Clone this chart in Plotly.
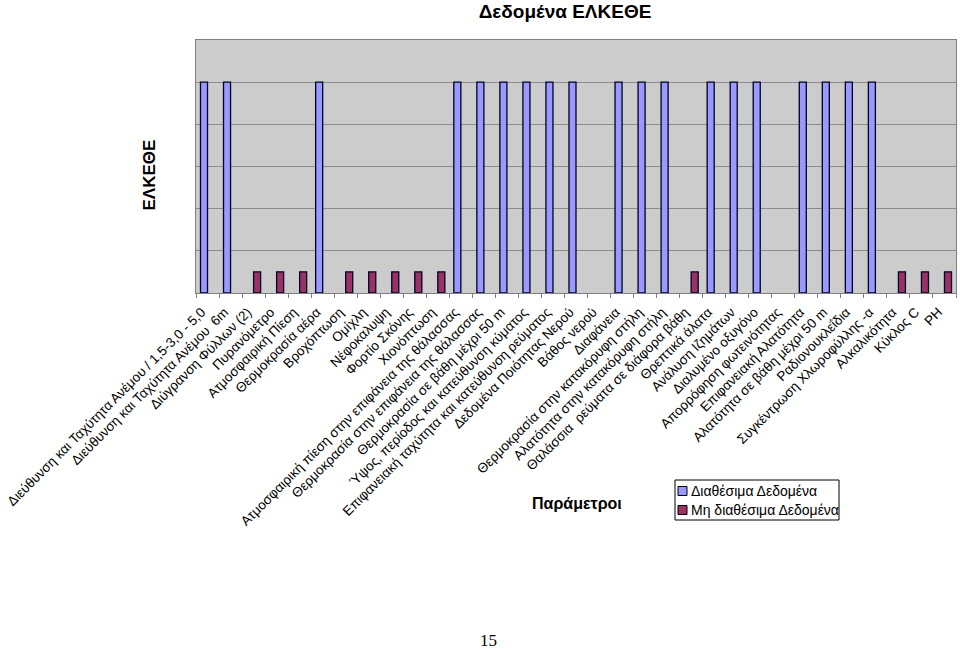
import plotly.graph_objects as go

categories = [
    "Διεύθυνση και Ταχύτητα Ανέμου / 1,5-3,0 - 5,0",
    "Διεύθυνση και Ταχύτητα Ανέμου  6m",
    "Διύγρανση Φύλλων (2)",
    "Πυρανόμετρο",
    "Ατμοσφαιρική Πίεση",
    "Θερμοκρασία αέρα",
    "Βροχόπτωση",
    "Ομίχλη",
    "Νέφοκαλυψη",
    "Φορτίο Σκόνης",
    "Χιονόπτωση",
    "Ατμοσφαιρική πίεση στην επιφάνεια της θάλασσας",
    "Θερμοκρασία στην επιφάνεια της θάλασσας",
    "Θερμοκρασία σε βάθη μέχρι 50 m",
    "Ύψος, περίοδος και κατεύθυνση κύματος",
    "Επιφανειακή ταχύτητα και κατεύθυνση ρεύματος",
    "Δεδομένα Ποιότητας Νερού",
    "Βάθος νερού",
    "Διαφάνεια",
    "Θερμοκρασία στην κατακόρυφη στήλη",
    "Αλατότητα στην κατακόρυφη στήλη",
    "Θαλάσσια  ρεύματα σε διάφορα βάθη",
    "Θρεπτικά άλατα",
    "Ανάλυση Ιζημάτων",
    "Διαλυμένο οξυγόνο",
    "Απορρόφηση φωτεινότητας",
    "Επιφανειακή Αλατότητα",
    "Αλατότητα σε βάθη μέχρι 50 m",
    "Ραδιονουκλεΐδια",
    "Συγκέντρωση Χλωροφύλλης -α",
    "Αλκαλικότητα",
    "Κύκλος C",
    "PH",
]

available = [1, 1, 0, 0, 0, 1, 0, 0, 0, 0, 0, 1, 1, 1, 1, 1, 1, 0, 1, 1, 1, 0,
             1, 1, 1, 0, 1, 1, 1, 1, 0, 0, 0]
unavailable = [0, 0, 0.1, 0.1, 0.1, 0, 0.1, 0.1, 0.1, 0.1, 0.1, 0, 0, 0, 0, 0, 0,
               0, 0, 0, 0, 0.1, 0, 0, 0, 0, 0, 0, 0, 0, 0.1, 0.1, 0.1]

series_names = ["Διαθέσιμα Δεδομένα", "Μη διαθέσιμα Δεδομένα"]
series_colors = ["#9999FF", "#993366"]

FONT = "Liberation Sans, Arial, sans-serif"

fig = go.Figure()
for vals, name, color in zip([available, unavailable], series_names, series_colors):
    fig.add_trace(go.Bar(
        x=categories, y=[v if v else None for v in vals], name=name,
        marker=dict(color=color, line=dict(color="#000022", width=1.3)),
        showlegend=False,
    ))

L, T, PW, PH_ = 196, 40, 760, 253

def px(x):
    return (x - L) / PW

def py(y):
    return (T + PH_ - y) / PH_

fig.update_layout(
    width=960, height=649,
    barmode="group", bargap=0.39, bargroupgap=0,
    paper_bgcolor="white", plot_bgcolor="#CCCCCC",
    margin=dict(l=L, r=960 - L - PW, t=T, b=649 - T - PH_, autoexpand=False),
    font=dict(family=FONT, size=12, color="black"),
    title=dict(text="<b>Δεδομένα ΕΛΚΕΘΕ</b>", x=565/960, xanchor="center",
               y=1 - 11/649, yanchor="middle", font=dict(size=19, family=FONT)),
)

fig.update_xaxes(
    type="category", tickangle=-45, automargin=False,
    showline=True, linecolor="#808080", mirror=True, linewidth=1,
    ticks="outside", ticklen=4, tickcolor="#808080", tickson="boundaries",
    ticklabelshift=-6, ticklabelstandoff=5,
    showgrid=False, tickfont=dict(size=13.5, family=FONT),
)
fig.update_yaxes(
    range=[0, 1.2], dtick=0.2, showticklabels=False,
    showgrid=True, gridcolor="#8C8C8C", gridwidth=1,
    showline=True, linecolor="#808080", mirror=True, zeroline=False,
    automargin=False, ticks="",
)

fig.add_annotation(text="<b>ΕΛΚΕΘΕ</b>", xref="paper", yref="paper",
                   x=px(137), y=py(175), textangle=-90,
                   showarrow=False, font=dict(size=17, family=FONT))
fig.add_annotation(text="<b>Παράμετροι</b>", xref="paper", yref="paper",
                   x=px(577), y=py(503), xanchor="center", yanchor="middle",
                   showarrow=False, font=dict(size=16, family=FONT))
fig.add_annotation(text="15", xref="paper", yref="paper",
                   x=px(488), y=py(640), xanchor="center", yanchor="middle",
                   showarrow=False, font=dict(size=17, family="Liberation Serif, Times New Roman, serif"))

# legend box (drawn like the original chart's legend)
fig.add_shape(type="rect", xref="paper", yref="paper",
              x0=px(675), x1=px(839), y0=py(480), y1=py(520),
              line=dict(color="#000000", width=1), fillcolor="white", layer="above")
for i, (name, color) in enumerate(zip(series_names, series_colors)):
    yc = 491 + 19 * i
    fig.add_shape(type="rect", xref="paper", yref="paper",
                  x0=px(678), x1=px(687), y0=py(yc - 4.5), y1=py(yc + 4.5),
                  line=dict(color="#000000", width=1), fillcolor=color, layer="above")
    fig.add_annotation(text=name, xref="paper", yref="paper",
                       x=px(689), y=py(yc), xanchor="left", yanchor="middle",
                       showarrow=False, font=dict(size=14, family=FONT))

fig.write_html("out.html", post_script="document.body.style.margin='0';",
               config={"displayModeBar": False})
